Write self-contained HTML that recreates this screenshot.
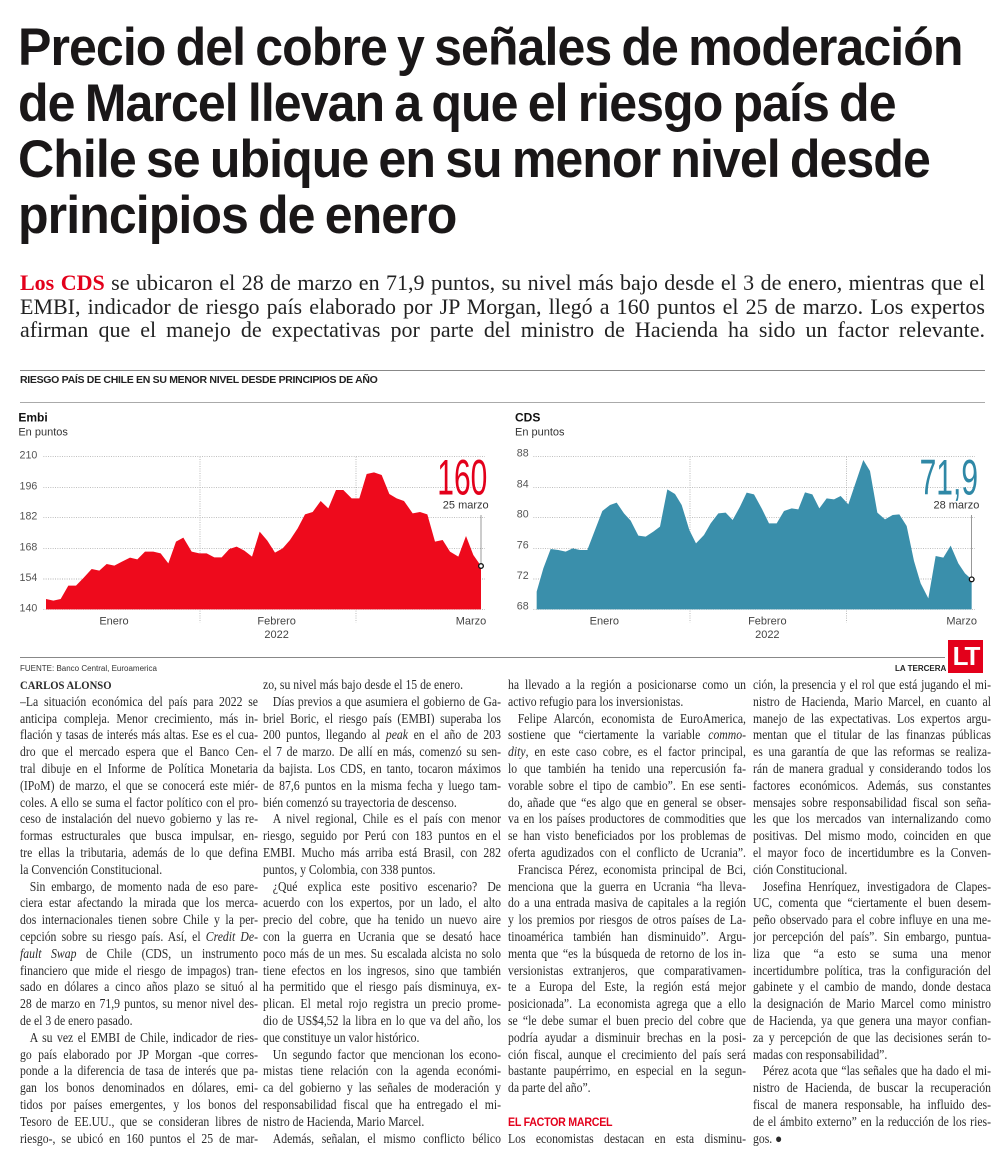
<!DOCTYPE html>
<html><head><meta charset="utf-8">
<style>
*{margin:0;padding:0;box-sizing:border-box}
body{width:1000px;height:1165px;background:#fff;position:relative;overflow:hidden;font-family:"Liberation Serif",serif;color:#222}
.abs{position:absolute}
.hl{position:absolute;left:18px;font-family:"Liberation Sans",sans-serif;font-weight:bold;font-size:53px;line-height:56px;color:#1a1718;white-space:nowrap;transform-origin:0 0;transform:scaleX(0.945);letter-spacing:-1px;word-spacing:-3px}
.j{white-space:nowrap;text-align:justify;text-align-last:justify}
.e{text-align-last:left}
.lead{position:absolute;left:20px;width:965px;font-size:22px;line-height:23.5px;color:#222}
.col{position:absolute;top:677px;width:268px;transform-origin:0 0;transform:scaleX(0.888);font-size:13.2px;line-height:16.8px;color:#2a2a2a}
.col div{height:16.8px;overflow:hidden;display:block}
.i{padding-left:11px}
.sans{font-family:"Liberation Sans",sans-serif}
</style></head><body>

<div class="hl" style="top:20px">Precio del cobre y señales de moderación</div>
<div class="hl" style="top:76px">de Marcel llevan a que el riesgo país de</div>
<div class="hl" style="top:132px">Chile se ubique en su menor nivel desde</div>
<div class="hl" style="top:188px">principios de enero</div>

<div class="lead" style="top:271px">
<div class="j"><b style="color:#e3001b">Los CDS</b> se ubicaron el 28 de marzo en 71,9 puntos, su nivel más bajo desde el 3 de enero, mientras que el</div>
<div class="j">EMBI, indicador de riesgo país elaborado por JP Morgan, llegó a 160 puntos el 25 de marzo. Los expertos</div>
<div class="j">afirman que el manejo de expectativas por parte del ministro de Hacienda ha sido un factor relevante.</div>
</div>

<div class="abs" style="left:20px;top:370px;width:965px;height:1px;background:#888"></div>
<div class="abs sans" style="left:20px;top:374px;font-size:10.5px;font-weight:bold;letter-spacing:-0.3px;color:#222">RIESGO PAÍS DE CHILE EN SU MENOR NIVEL DESDE PRINCIPIOS DE AÑO</div>
<div class="abs" style="left:20px;top:402px;width:965px;height:1px;background:#aaa"></div>

<svg class="abs" style="left:0;top:400px" width="500" height="280" viewBox="0 0 1500 840" font-family="Liberation Sans, sans-serif">
<text x="55" y="65" font-size="36" font-weight="bold" fill="#111">Embi</text>
<text x="55" y="106" font-size="33" fill="#333">En puntos</text>
<g stroke="#999" stroke-width="2" stroke-dasharray="3,4">
<line x1="130" y1="170" x2="1455" y2="170"/><line x1="130" y1="262" x2="1455" y2="262"/><line x1="130" y1="353" x2="1455" y2="353"/><line x1="130" y1="445" x2="1455" y2="445"/><line x1="130" y1="537" x2="1455" y2="537"/><line x1="130" y1="628" x2="1455" y2="628"/>
<line x1="600" y1="170" x2="600" y2="668"/><line x1="1068" y1="170" x2="1068" y2="668"/>
</g>
<g font-size="32" fill="#555" text-anchor="end">
<text x="112" y="176">210</text><text x="112" y="268">196</text><text x="112" y="359">182</text><text x="112" y="451">168</text><text x="112" y="543">154</text><text x="112" y="634">140</text>
</g>
<polygon fill="#ee0a1c" points="138,628 138,597 160,602 182,597 205,557 228,557 252,532 275,507 298,512 320,492 343,497 366,485 390,473 412,478 435,455 460,455 482,460 505,490 528,425 550,413 575,455 598,460 620,460 643,472 665,472 688,447 710,440 733,452 756,470 779,395 802,422 825,458 848,445 870,420 893,385 915,343 938,336 962,303 985,325 1008,270 1030,270 1055,295 1078,295 1100,222 1122,217 1145,225 1168,282 1190,295 1212,303 1238,340 1260,336 1282,343 1305,425 1328,420 1350,455 1375,470 1398,408 1420,465 1443,498 1443,628"/>
<line x1="1443" y1="345" x2="1443" y2="498" stroke="#666" stroke-width="2"/>
<circle cx="1443" cy="498" r="7" fill="#fff" stroke="#111" stroke-width="4"/>
<g font-size="33" fill="#444" text-anchor="middle">
<text x="342" y="673">Enero</text><text x="830" y="673">Febrero</text><text x="830" y="714">2022</text><text x="1413" y="673">Marzo</text>
</g>
<text transform="translate(1462,284) scale(0.6,1)" text-anchor="end" font-size="150" fill="#e3001b">160</text>
<text x="1466" y="325" text-anchor="end" font-size="33" fill="#333">25 marzo</text>
</svg>

<svg class="abs" style="left:500px;top:400px" width="500" height="280" viewBox="0 0 1500 840" font-family="Liberation Sans, sans-serif">
<text x="45" y="65" font-size="36" font-weight="bold" fill="#111">CDS</text>
<text x="45" y="106" font-size="33" fill="#333">En puntos</text>
<g stroke="#999" stroke-width="2" stroke-dasharray="3,4">
<line x1="100" y1="170" x2="1425" y2="170"/><line x1="100" y1="262" x2="1425" y2="262"/><line x1="100" y1="353" x2="1425" y2="353"/><line x1="100" y1="445" x2="1425" y2="445"/><line x1="100" y1="537" x2="1425" y2="537"/><line x1="100" y1="628" x2="1425" y2="628"/>
<line x1="570" y1="170" x2="570" y2="668"/><line x1="1040" y1="170" x2="1040" y2="668"/>
</g>
<g font-size="32" fill="#555" text-anchor="end">
<text x="86" y="170">88</text><text x="86" y="262">84</text><text x="86" y="353">80</text><text x="86" y="445">76</text><text x="86" y="537">72</text><text x="86" y="628">68</text>
</g>
<polygon fill="#3a8fab" points="110,628 110,575 130,505 152,447 175,450 197,455 218,445 240,450 262,450 285,390 307,333 330,315 350,308 372,340 392,362 415,407 437,410 460,395 480,380 502,268 525,282 545,315 568,390 588,430 612,405 632,370 655,340 677,338 698,360 720,320 740,278 762,283 785,325 807,370 830,370 852,333 875,325 895,328 915,277 937,283 958,325 980,295 1002,298 1022,288 1045,313 1068,245 1090,180 1110,213 1132,338 1155,358 1178,345 1198,343 1220,378 1242,483 1262,550 1285,595 1307,468 1330,473 1352,437 1375,490 1395,520 1415,538 1415,628"/>
<line x1="1415" y1="345" x2="1415" y2="538" stroke="#666" stroke-width="2"/>
<circle cx="1415" cy="538" r="7" fill="#fff" stroke="#111" stroke-width="4"/>
<g font-size="33" fill="#444" text-anchor="middle">
<text x="313" y="673">Enero</text><text x="802" y="673">Febrero</text><text x="802" y="714">2022</text><text x="1385" y="673">Marzo</text>
</g>
<text transform="translate(1434,284) scale(0.6,1)" text-anchor="end" font-size="150" fill="#2f88a6">71,9</text>
<text x="1438" y="325" text-anchor="end" font-size="33" fill="#333">28 marzo</text>
</svg>

<div class="abs" style="left:20px;top:657px;width:925px;height:1px;background:#888"></div>
<div class="abs sans" style="left:20px;top:664px;font-size:8px;color:#333">FUENTE: Banco Central, Euroamerica</div>
<div class="abs sans" style="left:895px;top:664px;font-size:8px;font-weight:bold;color:#222">LA TERCERA</div>
<div class="abs sans" style="left:948px;top:640px;width:35px;height:33px;background:#e3001b;color:#fff;font-weight:bold;font-size:26px;line-height:33px;text-align:center;letter-spacing:-2px">LT</div>

<div class="col" style="left:20px">
<div class="j e" style="font-weight:bold;font-size:12px">CARLOS ALONSO</div>
<div class="j">–La situación económica del país para 2022 se</div>
<div class="j">anticipa compleja. Menor crecimiento, más in-</div>
<div class="j">flación y tasas de interés más altas. Ese es el cua-</div>
<div class="j">dro que el mercado espera que el Banco Cen-</div>
<div class="j">tral dibuje en el Informe de Política Monetaria</div>
<div class="j">(IPoM) de marzo, el que se conocerá este miér-</div>
<div class="j">coles. A ello se suma el factor político con el pro-</div>
<div class="j">ceso de instalación del nuevo gobierno y las re-</div>
<div class="j">formas estructurales que busca impulsar, en-</div>
<div class="j">tre ellas la tributaria, además de lo que defina</div>
<div class="j e">la Convención Constitucional.</div>
<div class="j i">Sin embargo, de momento nada de eso pare-</div>
<div class="j">ciera estar afectando la mirada que los merca-</div>
<div class="j">dos internacionales tienen sobre Chile y la per-</div>
<div class="j">cepción sobre su riesgo país. Así, el <i>Credit De-</i></div>
<div class="j"><i>fault Swap</i> de Chile (CDS, un instrumento</div>
<div class="j">financiero que mide el riesgo de impagos) tran-</div>
<div class="j">sado en dólares a cinco años plazo se situó al</div>
<div class="j">28 de marzo en 71,9 puntos, su menor nivel des-</div>
<div class="j e">de el 3 de enero pasado.</div>
<div class="j i">A su vez el EMBI de Chile, indicador de ries-</div>
<div class="j">go país elaborado por JP Morgan -que corres-</div>
<div class="j">ponde a la diferencia de tasa de interés que pa-</div>
<div class="j">gan los bonos denominados en dólares, emi-</div>
<div class="j">tidos por países emergentes, y los bonos del</div>
<div class="j">Tesoro de EE.UU., que se consideran libres de</div>
<div class="j">riesgo-, se ubicó en 160 puntos el 25 de mar-</div>
</div>

<div class="col" style="left:263px">
<div class="j e">zo, su nivel más bajo desde el 15 de enero.</div>
<div class="j i">Días previos a que asumiera el gobierno de Ga-</div>
<div class="j">briel Boric, el riesgo país (EMBI) superaba los</div>
<div class="j">200 puntos, llegando al <i>peak</i> en el año de 203</div>
<div class="j">el 7 de marzo. De allí en más, comenzó su sen-</div>
<div class="j">da bajista. Los CDS, en tanto, tocaron máximos</div>
<div class="j">de 87,6 puntos en la misma fecha y luego tam-</div>
<div class="j e">bién comenzó su trayectoria de descenso.</div>
<div class="j i">A nivel regional, Chile es el país con menor</div>
<div class="j">riesgo, seguido por Perú con 183 puntos en el</div>
<div class="j">EMBI. Mucho más arriba está Brasil, con 282</div>
<div class="j e">puntos, y Colombia, con 338 puntos.</div>
<div class="j i">¿Qué explica este positivo escenario? De</div>
<div class="j">acuerdo con los expertos, por un lado, el alto</div>
<div class="j">precio del cobre, que ha tenido un nuevo aire</div>
<div class="j">con la guerra en Ucrania que se desató hace</div>
<div class="j">poco más de un mes. Su escalada alcista no solo</div>
<div class="j">tiene efectos en los ingresos, sino que también</div>
<div class="j">ha permitido que el riesgo país disminuya, ex-</div>
<div class="j">plican. El metal rojo registra un precio prome-</div>
<div class="j">dio de US$4,52 la libra en lo que va del año, los</div>
<div class="j e">que constituye un valor histórico.</div>
<div class="j i">Un segundo factor que mencionan los econo-</div>
<div class="j">mistas tiene relación con la agenda económi-</div>
<div class="j">ca del gobierno y las señales de moderación y</div>
<div class="j">responsabilidad fiscal que ha entregado el mi-</div>
<div class="j e">nistro de Hacienda, Mario Marcel.</div>
<div class="j i">Además, señalan, el mismo conflicto bélico</div>
</div>

<div class="col" style="left:508px">
<div class="j">ha llevado a la región a posicionarse como un</div>
<div class="j e">activo refugio para los inversionistas.</div>
<div class="j i">Felipe Alarcón, economista de EuroAmerica,</div>
<div class="j">sostiene que “ciertamente la variable <i>commo-</i></div>
<div class="j"><i>dity</i>, en este caso cobre, es el factor principal,</div>
<div class="j">lo que también ha tenido una repercusión fa-</div>
<div class="j">vorable sobre el tipo de cambio”. En ese senti-</div>
<div class="j">do, añade que “es algo que en general se obser-</div>
<div class="j">va en los países productores de commodities que</div>
<div class="j">se han visto beneficiados por los problemas de</div>
<div class="j">oferta agudizados con el conflicto de Ucrania”.</div>
<div class="j i">Francisca Pérez, economista principal de Bci,</div>
<div class="j">menciona que la guerra en Ucrania “ha lleva-</div>
<div class="j">do a una entrada masiva de capitales a la región</div>
<div class="j">y los premios por riesgos de otros países de La-</div>
<div class="j">tinoamérica también han disminuido”. Argu-</div>
<div class="j">menta que “es la búsqueda de retorno de los in-</div>
<div class="j">versionistas extranjeros, que comparativamen-</div>
<div class="j">te a Europa del Este, la región está mejor</div>
<div class="j">posicionada”. La economista agrega que a ello</div>
<div class="j">se “le debe sumar el buen precio del cobre que</div>
<div class="j">podría ayudar a disminuir brechas en la posi-</div>
<div class="j">ción fiscal, aunque el crecimiento del país será</div>
<div class="j">bastante paupérrimo, en especial en la segun-</div>
<div class="j e">da parte del año”.</div>
<div></div>
<div class="j e sans" style="color:#e3001b;font-weight:bold;font-size:12px;letter-spacing:-0.3px">EL FACTOR MARCEL</div>
<div class="j">Los economistas destacan en esta disminu-</div>
</div>

<div class="col" style="left:753px">
<div class="j">ción, la presencia y el rol que está jugando el mi-</div>
<div class="j">nistro de Hacienda, Mario Marcel, en cuanto al</div>
<div class="j">manejo de las expectativas. Los expertos argu-</div>
<div class="j">mentan que el titular de las finanzas públicas</div>
<div class="j">es una garantía de que las reformas se realiza-</div>
<div class="j">rán de manera gradual y considerando todos los</div>
<div class="j">factores económicos. Además, sus constantes</div>
<div class="j">mensajes sobre responsabilidad fiscal son seña-</div>
<div class="j">les que los mercados van internalizando como</div>
<div class="j">positivas. Del mismo modo, coinciden en que</div>
<div class="j">el mayor foco de incertidumbre es la Conven-</div>
<div class="j e">ción Constitucional.</div>
<div class="j i">Josefina Henríquez, investigadora de Clapes-</div>
<div class="j">UC, comenta que “ciertamente el buen desem-</div>
<div class="j">peño observado para el cobre influye en una me-</div>
<div class="j">jor percepción del país”. Sin embargo, puntua-</div>
<div class="j">liza que “a esto se suma una menor</div>
<div class="j">incertidumbre política, tras la configuración del</div>
<div class="j">gabinete y el cambio de mando, donde destaca</div>
<div class="j">la designación de Mario Marcel como ministro</div>
<div class="j">de Hacienda, ya que genera una mayor confian-</div>
<div class="j">za y percepción de que las decisiones serán to-</div>
<div class="j e">madas con responsabilidad”.</div>
<div class="j i">Pérez acota que “las señales que ha dado el mi-</div>
<div class="j">nistro de Hacienda, de buscar la recuperación</div>
<div class="j">fiscal de manera responsable, ha influido des-</div>
<div class="j">de el ámbito externo” en la reducción de los ries-</div>
<div class="j e">gos. ●</div>
</div>

</body></html>
